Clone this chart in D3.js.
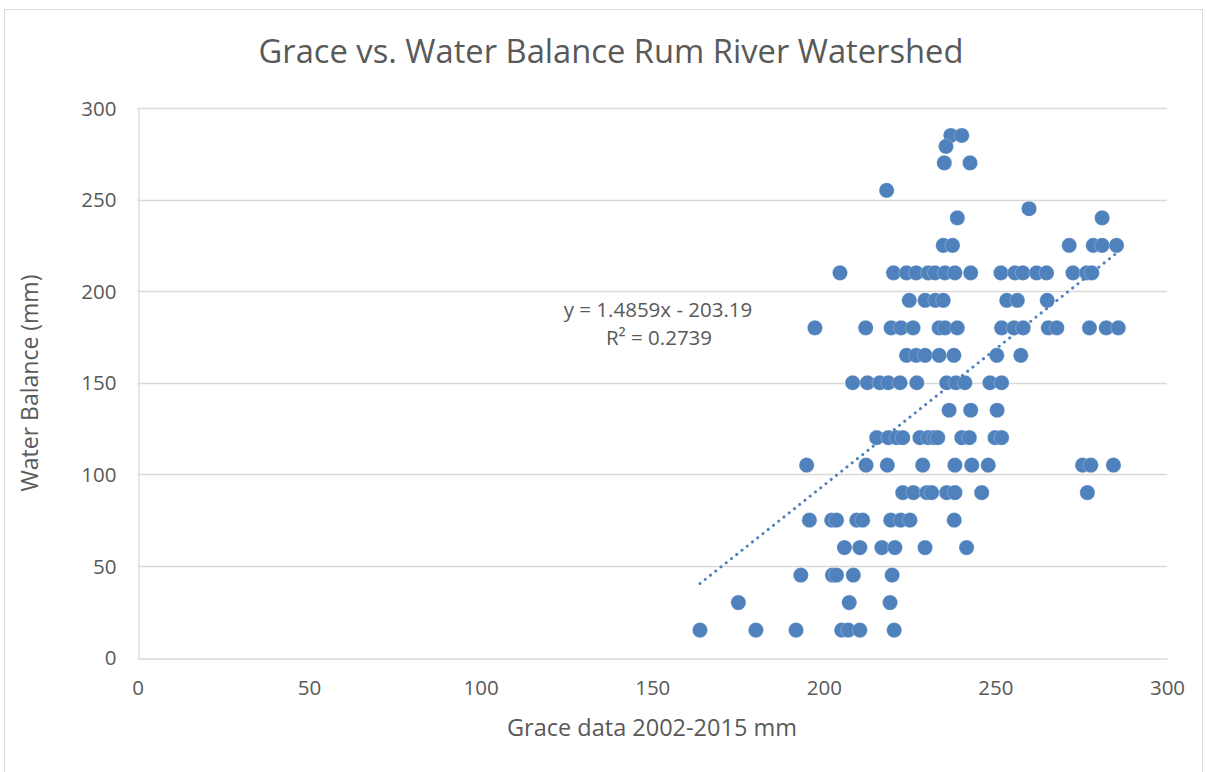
<!DOCTYPE html>
<html>
<head>
<meta charset="utf-8">
<script src="https://cdn.jsdelivr.net/npm/d3@7"></script>
<style>
  html, body { margin: 0; padding: 0; background: #fff; }
  svg { display: block; font-family: "Open Sans", Lato, sans-serif; }
</style>
</head>
<body>
<svg id="chart" width="1207" height="772"></svg>
<script>
// ---- Data ----
const titleText = "Grace vs. Water Balance Rum River Watershed";
const xTitle = "Grace data 2002-2015 mm";
const yTitle = "Water Balance (mm)";
const xTicks = [0, 50, 100, 150, 200, 250, 300];
const yTicks = [0, 50, 100, 150, 200, 250, 300];

// Water balance levels (mm) and the Grace values observed at each level
const waterLevels = [285, 279, 270, 255, 245, 240, 225, 210, 195, 180, 165, 150, 135, 120, 105, 90, 75, 60, 45, 30, 15];
const graceAtLevel = [
  [237.0, 240.2],
  [235.6],
  [235.1, 242.6],
  [218.3],
  [259.8],
  [238.9, 281.1],
  [234.8, 237.5, 271.5, 278.5, 281.1, 285.3],
  [204.7, 220.3, 224.1, 226.9, 230.4, 232.4, 235.3, 238.2, 242.8, 251.6, 255.7, 258.0, 262.0, 264.9, 272.6, 276.6, 278.1],
  [224.9, 229.5, 232.5, 234.8, 253.3, 256.4, 265.1],
  [197.4, 212.2, 219.6, 222.5, 226.0, 233.6, 235.3, 238.9, 251.8, 255.4, 258.1, 265.4, 267.9, 277.4, 282.3, 285.8],
  [224.1, 226.9, 229.5, 233.6, 237.9, 250.4, 257.4],
  [208.4, 212.7, 216.3, 218.8, 222.2, 227.1, 235.8, 238.5, 241.1, 248.4, 251.8],
  [236.5, 242.8, 250.5],
  [215.4, 218.8, 221.2, 223.0, 228.0, 230.4, 232.1, 233.2, 240.2, 242.4, 249.9, 251.8],
  [195.0, 212.3, 218.5, 228.8, 238.2, 243.1, 247.9, 275.4, 277.8, 284.4],
  [223.0, 226.1, 230.0, 231.4, 235.8, 238.2, 246.0, 276.8],
  [195.8, 202.3, 203.7, 209.6, 211.3, 219.5, 222.4, 225.1, 238.0],
  [206.0, 210.5, 216.9, 220.7, 229.5, 241.6],
  [193.3, 202.5, 203.7, 208.6, 219.9],
  [175.1, 207.4, 219.3],
  [163.9, 180.2, 191.9, 205.2, 207.1, 210.5, 220.5]
];

// Trendline as displayed in the chart
const trendSlope = 1.4859;
const trendIntercept = -203.19;
const trendLabel1 = "y = 1.4859x - 203.19";
const trendLabel2 = "R² = 0.2739";

// ---- Build points ----
const points = [];
waterLevels.forEach((w, i) => graceAtLevel[i].forEach(g => points.push({ x: g, y: w })));

// ---- Layout ----
const svg = d3.select("#chart");
const textColor = "#595959";
const gridColor = "#d9d9d9";
const markColor = "#4F81BD";
const fontFam = "'Open Sans', Lato, sans-serif";

const x = d3.scaleLinear().domain([0, 300]).range([137.5, 1167]);
const y = d3.scaleLinear().domain([0, 300]).range([657.5, 108]);

// Outer chart border
svg.append("rect")
  .attr("x", 4.5).attr("y", 9.5).attr("width", 1198).attr("height", 770)
  .attr("fill", "#fff").attr("stroke", gridColor).attr("stroke-width", 1);

// Title
svg.append("text")
  .attr("x", 611).attr("y", 63)
  .attr("text-anchor", "middle")
  .attr("fill", textColor)
  .attr("font-size", 32.7)
  .text(titleText);

// Gridlines
svg.append("g")
  .selectAll("line")
  .data(yTicks.filter(d => d > 0))
  .join("line")
  .attr("x1", x(0)).attr("x2", x(300))
  .attr("y1", d => Math.round(y(d)) + 0.5).attr("y2", d => Math.round(y(d)) + 0.5)
  .attr("stroke", gridColor).attr("stroke-width", 1.3);

// Axes
const xAxis = d3.axisBottom(x).tickValues(xTicks).tickSize(0).tickPadding(22);
const yAxis = d3.axisLeft(y).tickValues(yTicks).tickSize(0).tickPadding(22);

const gx = svg.append("g").attr("transform", `translate(0,${Math.round(y(0)) + 0.5})`).call(xAxis);
const gy = svg.append("g").attr("transform", `translate(${Math.round(x(0)) + 0.5},0)`).call(yAxis);
[gx, gy].forEach(g => {
  g.select(".domain").attr("stroke", gridColor).attr("stroke-width", 1.3);
  g.selectAll("text").attr("fill", textColor).attr("font-size", 20.5).attr("font-family", fontFam);
});
gy.selectAll("text").attr("dy", "0.35em");

// Axis titles
svg.append("text")
  .attr("x", 652).attr("y", 736)
  .attr("text-anchor", "middle")
  .attr("fill", textColor).attr("font-size", 23.5)
  .text(xTitle);

svg.append("text")
  .attr("transform", "translate(38,383) rotate(-90)")
  .attr("text-anchor", "middle")
  .attr("fill", textColor).attr("font-size", 23)
  .text(yTitle);

// Points
svg.append("g")
  .selectAll("circle")
  .data(points)
  .join("circle")
  .attr("cx", d => x(d.x))
  .attr("cy", d => y(d.y))
  .attr("r", 7.6)
  .attr("fill", markColor)
  .attr("stroke", "#fff").attr("stroke-width", 0.4).attr("stroke-opacity", 0.6);

// Trendline (dotted), from min to max x of data
const xExt = d3.extent(points, d => d.x);
const trendPts = xExt.map(v => ({ x: v, y: trendSlope * v + trendIntercept }));
svg.append("path")
  .datum(trendPts)
  .attr("d", d3.line().x(d => x(d.x)).y(d => y(d.y)))
  .attr("fill", "none")
  .attr("stroke", markColor)
  .attr("stroke-width", 3)
  .attr("stroke-linecap", "round")
  .attr("stroke-dasharray", "0.1 6.6");

// Trendline label
svg.append("text")
  .attr("x", 658).attr("y", 317)
  .attr("text-anchor", "middle")
  .attr("fill", textColor).attr("font-size", 20.5)
  .text(trendLabel1);
svg.append("text")
  .attr("x", 659).attr("y", 345)
  .attr("text-anchor", "middle")
  .attr("fill", textColor).attr("font-size", 20.5)
  .text(trendLabel2);
</script>
</body>
</html>
